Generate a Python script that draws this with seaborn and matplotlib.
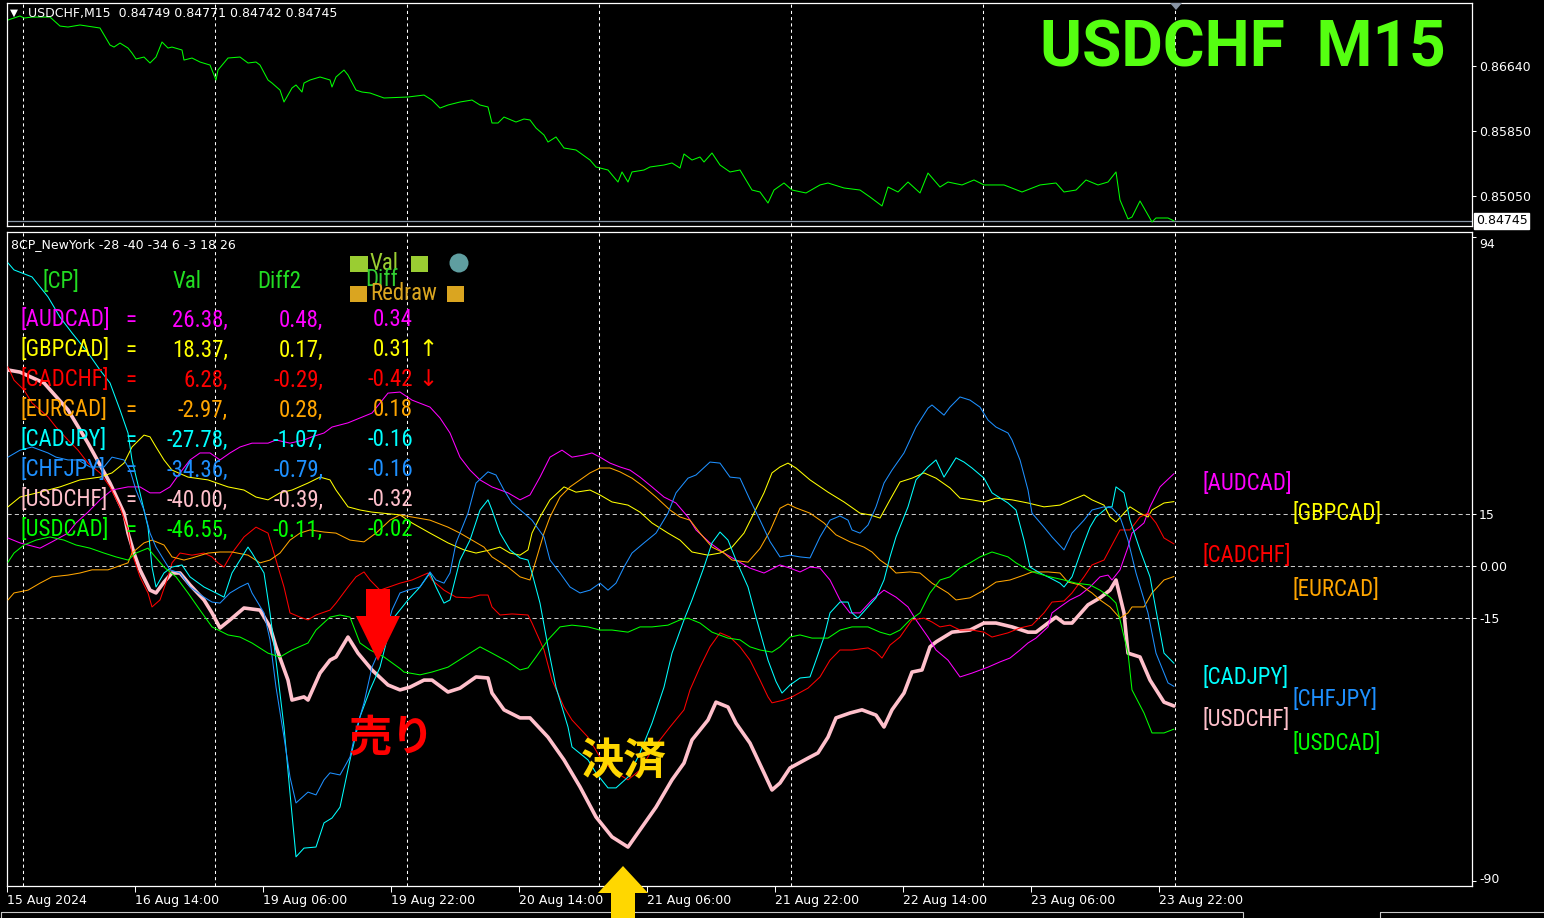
import matplotlib
matplotlib.use("Agg")
import matplotlib.pyplot as plt
import seaborn as sns
import pandas as pd
from matplotlib import font_manager
from matplotlib.font_manager import FontProperties
from matplotlib.patches import Polygon, Rectangle, Circle
from matplotlib.transforms import Affine2D, blended_transform_factory, ScaledTranslation

# ---------------- DATA ----------------
# USDCHF M15 price (bar index, price)
price_pts = [(0,0.87203),(6,0.87252),(8,0.87227),(12,0.87239),(21,0.87239),(26,0.87129),(30,0.87117),(36,0.87142),
    (46,0.87105),(51,0.86897),(53,0.86872),(56,0.86921),(60,0.86860),(62,0.86799),(64,0.86726),(68,0.86750),
    (71,0.86677),(74,0.86750),(77,0.86934),(80,0.86860),(82,0.86872),(87,0.86836),(88,0.86713),(92,0.86738),
    (96,0.86689),(101,0.86652),(104,0.86469),(105,0.86591),(110,0.86738),(116,0.86750),(120,0.86677),(124,0.86689),
    (126,0.86652),(130,0.86469),(132,0.86432),(136,0.86346),(138,0.86200),(142,0.86371),(144,0.86408),(147,0.86322),
    (148,0.86432),(151,0.86469),(156,0.86506),(161,0.86469),(162,0.86383),(164,0.86506),(168,0.86591),(170,0.86530),
    (174,0.86346),(177,0.86322),(181,0.86310),(188,0.86249),(200,0.86261),(208,0.86285),(212,0.86224),(216,0.86126),
    (220,0.86163),(226,0.86200),(232,0.86224),(236,0.86163),(240,0.86139),(242,0.85943),(245,0.85943),(248,0.86016),
    (254,0.85955),(258,0.85992),(261,0.85980),(264,0.85882),(268,0.85796),(270,0.85710),(274,0.85772),(278,0.85637),
    (284,0.85613),(291,0.85490),(294,0.85405),(300,0.85368),(305,0.85221),(307,0.85344),(310,0.85221),(312,0.85344),
    (318,0.85368),(321,0.85405),(328,0.85429),(332,0.85454),(336,0.85392),(338,0.85564),(342,0.85490),(346,0.85527),
    (348,0.85466),(352,0.85576),(356,0.85429),(361,0.85344),(366,0.85368),(372,0.85123),(376,0.85099),(380,0.84964),
    (383,0.85123),(388,0.85209),(392,0.85123),(399,0.85087),(406,0.85185),(410,0.85209),(418,0.85148),(426,0.85123),
    (431,0.85038),(437,0.84928),(440,0.85160),(445,0.85099),(450,0.85221),(456,0.85087),(460,0.85331),(466,0.85160),
    (470,0.85221),(477,0.85185),(483,0.85246),(488,0.85185),(498,0.85185),(507,0.85099),(516,0.85185),(524,0.85209),
    (528,0.85099),(534,0.85123),(539,0.85246),(545,0.85185),(550,0.85221),(554,0.85344),(556,0.85001),(560,0.84769),
    (562,0.84793),(566,0.84989),(568,0.84903),(572,0.84732),(574,0.84781),(580,0.84781),(583,0.84745)]
last_price = 0.84745

usdchf_pts = [(0,56.0),(6,55.4),(18,52.3),(30,44.6),(40,35.1),(51,23.7),(58,15.1),(60,9.4),(63,3.7),(66,-1.1),(71,-6.9),
    (74,-7.7),(78,-4.6),(82,-2.0),(86,-2.0),(91,-5.4),(98,-9.7),(102,-13.4),(106,-17.7),(111,-15.4),(118,-12.0),
    (126,-12.6),(131,-17.4),(134,-23.1),(140,-32.6),(142,-38.3),(148,-37.4),(150,-38.3),(156,-30.6),(161,-26.9),
    (164,-26.0),(170,-20.3),(175,-24.9),(182,-29.7),(190,-34.0),(196,-35.4),(201,-34.6),(208,-32.6),(212,-32.6),
    (220,-36.0),(226,-34.9),(234,-31.7),(240,-32.0),(242,-36.3),(248,-41.1),(256,-43.4),(261,-43.4),(270,-48.9),
    (278,-55.4),(286,-63.1),(294,-71.7),(302,-77.4),(310,-80.3),(316,-75.4),(324,-68.9),(332,-61.1),(338,-56.3),
    (342,-49.7),(350,-44.0),(354,-38.9),(360,-40.3),(364,-44.9),(371,-50.6),(378,-59.1),(382,-64.0),(386,-62.0),
    (391,-57.7),(400,-54.9),(405,-53.4),(410,-48.9),(414,-43.4),(421,-42.0),(427,-41.1),(434,-42.6),(438,-46.0),
    (442,-41.1),(448,-36.3),(452,-30.3),(457,-29.7),(461,-23.1),(464,-21.7),(472,-18.9),(481,-18.3),(488,-16.3),
    (494,-16.3),(502,-17.4),(510,-18.9),(514,-18.9),(520,-16.3),(524,-14.6),(528,-16.3),(532,-16.3),(540,-11.1),
    (546,-9.1),(551,-6.9),(554,-4.0),(558,-13.4),(560,-24.9),(566,-26.0),(571,-32.6),(578,-38.9),(583,-40.0)]

cadjpy_pts = [(0,86.6),(3,84.6),(12,82.6),(20,76.9),(26,71.1),(32,66.6),(40,60.9),(46,56.0),(51,52.3),(56,44.6),(60,38.0),
    (62,30.3),(66,20.9),(70,11.1),(72,-0.3),(74,-6.0),(78,-2.0),(82,-0.3),(87,0.3),(91,-3.1),(98,-6.0),(104,-7.7),
    (108,-8.9),(112,-2.0),(120,5.4),(122,3.7),(128,-2.0),(131,-13.4),(134,-26.9),(138,-46.0),(141,-64.9),(144,-83.1),
    (148,-80.6),(154,-80.3),(158,-73.4),(162,-72.0),(166,-68.9),(171,-55.4),(176,-43.1),(181,-35.4),(186,-28.9),
    (192,-15.4),(200,-9.7),(206,-6.0),(211,-2.0),(214,-6.0),(218,-10.6),(221,-9.7),(226,1.7),(231,7.4),(236,16.0),
    (240,18.9),(242,16.0),(246,9.4),(251,4.6),(256,2.3),(260,1.7),(262,-2.0),(266,-10.6),(270,-23.1),(274,-34.6),
    (280,-46.0),(282,-51.7),(290,-55.4),(294,-59.1),(300,-63.4),(304,-63.4),(310,-60.3),(316,-53.4),(322,-44.9),
    (328,-34.6),(332,-24.9),(338,-15.4),(342,-9.7),(348,-0.3),(352,6.6),(356,9.7),(360,7.4),(364,1.7),(370,-6.0),
    (374,-14.6),(380,-26.9),(384,-33.0),(387,-36.3),(391,-34.0),(396,-32.0),(401,-31.7),(404,-26.9),(408,-20.3),
    (411,-13.4),(416,-10.3),(420,-10.3),(422,-13.4),(425,-14.9),(430,-11.7),(434,-9.1),(438,-4.0),(441,2.6),(444,8.3),
    (450,16.9),(454,24.6),(460,28.3),(464,30.3),(468,25.4),(474,30.9),(478,29.7),(482,28.0),(488,25.1),(492,20.9),
    (500,18.0),(504,16.0),(508,7.4),(511,-0.3),(516,-2.0),(521,-3.4),(526,-4.9),(528,-6.0),(532,-3.1),(538,6.6),
    (541,11.1),(544,14.0),(550,16.9),(552,16.9),(554,22.6),(558,20.9),(561,13.1),(566,4.6),(571,-3.1),(574,-12.6),
    (578,-24.9),(583,-27.8)]

chfjpy_pts = [(0,31.1),(6,33.1),(12,34.0),(20,32.3),(24,31.1),(30,30.3),(35,30.3),(41,28.3),(48,28.3),(52,31.1),(58,30.3),
    (61,27.4),(64,21.7),(68,16.0),(71,9.4),(74,5.4),(78,1.7),(81,-1.1),(86,-2.0),(91,-6.0),(98,-8.9),(102,-10.3),
    (106,-10.6),(111,-7.7),(116,-6.0),(120,-4.9),(122,-7.7),(128,-13.4),(131,-21.1),(134,-34.6),(138,-48.9),
    (141,-60.3),(144,-67.7),(150,-64.6),(154,-65.4),(158,-61.1),(161,-59.1),(166,-59.7),(171,-54.6),(174,-46.9),
    (178,-39.1),(182,-28.9),(188,-21.1),(192,-12.6),(196,-7.7),(200,-6.9),(206,-6.0),(211,-1.7),(214,-4.0),(218,-4.9),
    (221,-2.0),(224,6.6),(230,15.1),(234,23.7),(240,26.9),(244,26.0),(248,21.7),(252,18.0),(258,15.1),(262,13.1),
    (268,8.3),(271,1.7),(276,-2.0),(281,-6.0),(286,-7.7),(291,-6.9),(296,-4.9),(300,-6.9),(304,-4.9),(308,-0.3),
    (312,3.7),(318,6.6),(324,9.4),(330,15.1),(334,20.9),(340,25.1),(344,26.0),(351,29.7),(356,29.4),(361,25.4),
    (366,25.1),(371,18.9),(376,13.1),(381,7.0),(386,2.6),(391,3.1),(396,2.6),(401,2.3),(406,8.3),(411,13.1),(416,14.3),
    (420,13.1),(422,10.3),(426,9.4),(430,11.7),(434,16.9),(438,23.7),(442,27.4),(448,32.3),(454,39.7),(460,45.1),
    (462,46.0),(468,43.1),(471,45.4),(476,48.3),(481,47.4),(486,45.4),(490,41.7),(494,39.7),(500,38.0),(502,36.0),
    (506,30.3),(510,21.7),(512,15.1),(518,11.1),(522,8.3),(528,4.6),(532,9.4),(538,13.1),(542,16.0),(548,16.9),
    (552,16.6),(556,14.0),(560,7.4),(564,-2.0),(570,-13.4),(574,-24.9),(580,-33.4),(583,-34.4)]

cadchf_pts = [(0,56.9),(3,53.1),(8,50.3),(12,46.6),(20,42.6),(24,39.7),(30,36.0),(35,33.1),(40,29.4),(46,26.6),(51,22.6),
    (56,16.9),(60,10.3),(62,3.7),(66,-3.1),(70,-7.7),(72,-11.7),(76,-9.7),(80,-3.1),(82,0.9),(86,3.7),(92,3.1),(98,3.7),
    (102,2.6),(105,0.9),(108,-0.3),(112,3.7),(118,8.3),(124,11.1),(130,9.4),(134,1.7),(138,-6.0),(141,-13.4),
    (146,-14.6),(150,-15.4),(154,-14.0),(161,-12.6),(164,-10.6),(170,-6.0),(174,-3.1),(178,-1.7),(181,-4.0),(186,-6.9),
    (196,-4.9),(202,-4.0),(210,-2.0),(212,-4.0),(218,-6.9),(224,-8.9),(231,-9.1),(236,-8.3),(240,-8.3),(242,-11.7),
    (246,-14.0),(252,-13.7),(260,-14.0),(262,-16.3),(268,-24.0),(272,-32.6),(278,-40.3),(282,-44.0),(290,-48.9),
    (296,-54.6),(302,-58.3),(310,-61.1),(316,-58.3),(322,-52.6),(331,-46.0),(338,-41.1),(341,-35.4),(346,-28.9),
    (351,-23.1),(356,-19.1),(361,-20.3),(366,-23.1),(371,-26.9),(376,-32.6),(380,-37.4),(382,-39.1),(388,-38.3),
    (392,-37.4),(400,-34.9),(406,-31.7),(411,-26.9),(416,-24.0),(422,-24.0),(430,-23.4),(434,-24.6),(437,-26.3),
    (441,-22.6),(446,-20.3),(452,-15.4),(458,-14.9),(462,-16.0),(466,-17.4),(471,-16.9),(476,-18.3),(482,-18.3),
    (488,-18.9),(492,-20.3),(500,-19.1),(506,-17.7),(512,-16.9),(518,-13.4),(522,-10.3),(528,-10.0),(532,-7.7),
    (538,-3.1),(542,0.3),(548,1.7),(552,6.0),(556,10.3),(561,10.3),(566,14.0),(570,15.1),(574,12.3),(578,8.0),(583,6.3)]

audcad_pts = [(0,8.0),(6,6.6),(16,5.1),(22,6.9),(30,9.4),(34,12.3),(40,15.4),(46,18.9),(52,21.7),(60,22.6),(66,22.6),
    (71,20.9),(76,20.9),(81,22.6),(86,26.6),(91,30.3),(96,32.3),(101,32.3),(106,30.3),(111,32.3),(116,34.0),(122,35.1),
    (130,35.1),(134,36.0),(141,35.1),(148,36.0),(152,36.9),(158,38.0),(162,39.7),(170,40.9),(176,42.3),(182,43.7),
    (190,49.4),(196,49.7),(202,47.4),(211,45.4),(216,42.3),(221,38.0),(226,31.1),(231,27.4),(236,24.6),(242,22.6),
    (250,20.9),(256,18.9),(261,20.3),(266,25.4),(271,31.1),(277,33.1),(282,31.1),(288,31.7),(292,32.3),(296,31.1),
    (301,29.4),(306,28.3),(311,27.4),(316,25.4),(322,22.6),(328,19.7),(334,18.0),(340,14.0),(344,10.3),(351,6.6),
    (358,3.7),(364,1.7),(371,-0.6),(378,-2.0),(386,0.3),(391,-0.6),(396,-1.7),(401,-0.3),(406,-0.6),(411,-4.0),
    (416,-9.7),(421,-13.4),(426,-13.4),(432,-9.7),(438,-6.9),(444,-8.9),(450,-11.7),(454,-15.4),(460,-20.3),
    (464,-24.0),(470,-26.9),(476,-31.7),(482,-30.6),(490,-28.9),(496,-27.4),(501,-26.3),(506,-24.0),(510,-22.0),
    (514,-20.6),(520,-17.4),(522,-13.4),(526,-11.7),(531,-9.7),(536,-8.3),(541,-6.0),(546,-3.1),(550,-2.6),(552,-4.0),
    (556,-1.1),(560,5.4),(562,9.4),(568,12.3),(571,16.9),(576,22.6),(583,26.4)]

gbpcad_pts = [(0,16.9),(6,19.7),(16,21.1),(26,22.6),(36,24.6),(46,25.4),(52,26.6),(58,29.4),(62,34.0),(68,37.4),(71,36.9),
    (74,34.0),(78,30.3),(82,27.4),(90,25.4),(100,24.6),(110,22.6),(118,21.7),(124,19.7),(130,18.9),(136,20.9),
    (142,21.7),(150,23.7),(156,25.4),(161,24.6),(164,21.7),(170,16.9),(176,16.0),(182,15.4),(196,14.6),(202,12.3),
    (211,9.4),(220,6.6),(228,4.6),(234,3.7),(241,4.6),(246,5.4),(251,3.7),(256,3.1),(260,4.6),(262,9.4),(266,14.0),
    (271,18.9),(278,22.6),(284,21.1),(291,21.7),(296,20.3),(302,18.3),(310,17.4),(316,15.4),(322,12.3),(330,9.4),
    (336,7.4),(342,4.0),(350,3.1),(356,3.7),(362,5.4),(368,9.4),(372,14.0),(378,20.9),(382,26.6),(386,28.3),(390,29.4),
    (394,28.0),(401,24.6),(410,21.1),(418,18.3),(426,15.1),(431,14.6),(436,13.7),(441,18.9),(446,24.0),(452,25.1),
    (458,26.6),(464,25.1),(471,22.3),(476,19.4),(482,18.9),(488,18.3),(494,19.4),(502,18.9),(510,18.0),(518,16.9),
    (526,17.4),(532,18.9),(538,20.3),(542,18.9),(548,17.4),(551,14.0),(554,12.6),(558,15.1),(561,16.9),(566,15.1),
    (570,14.0),(572,16.0),(578,18.0),(583,18.4)]

eurcad_pts = [(0,-9.7),(3,-7.7),(10,-6.9),(16,-4.9),(22,-3.1),(30,-2.6),(36,-2.0),(42,-1.1),(50,-1.1),(54,-0.3),(60,0.9),
    (62,3.7),(68,6.6),(72,7.4),(78,6.0),(82,2.6),(88,1.7),(92,2.3),(100,3.7),(106,4.0),(112,4.0),(120,3.1),(126,0.9),
    (131,1.7),(136,3.7),(141,7.4),(146,9.4),(151,10.3),(158,9.7),(164,9.4),(171,7.4),(178,6.9),(184,9.4),(191,13.1),
    (196,14.6),(202,14.0),(211,13.1),(220,11.1),(226,9.4),(232,7.4),(238,5.4),(242,2.6),(250,-0.3),(256,-3.1),
    (261,-4.0),(264,1.7),(268,9.4),(271,14.0),(276,19.7),(281,22.6),(286,24.6),(291,26.6),(296,28.0),(301,28.0),
    (306,26.9),(312,25.1),(318,22.6),(324,19.7),(331,16.0),(336,14.0),(341,13.1),(346,9.4),(352,5.4),(358,3.7),
    (362,1.7),(370,1.1),(376,5.0),(381,10.0),(386,16.5),(390,17.7),(394,16.6),(401,15.1),(408,12.3),(414,8.9),
    (421,6.9),(428,5.4),(432,4.0),(436,1.7),(441,-0.3),(444,-2.0),(451,-1.7),(456,-2.0),(462,-4.9),(470,-7.7),
    (474,-9.7),(481,-9.1),(488,-6.9),(494,-4.6),(501,-4.0),(508,-2.6),(512,-1.7),(520,-1.7),(526,-2.0),(530,-4.6),
    (536,-5.4),(542,-7.7),(546,-9.7),(551,-11.7),(556,-14.9),(560,-13.4),(562,-11.7),(568,-11.7),(572,-7.7),
    (578,-4.0),(583,-3.0)]

usdcad_pts = [(0,1.1),(3,3.7),(8,6.0),(14,7.4),(21,8.3),(28,7.4),(34,6.0),(41,5.1),(48,3.7),(54,2.6),(60,1.7),(64,3.7),
    (70,5.1),(72,3.7),(78,-0.3),(84,-3.1),(90,-7.7),(96,-12.6),(102,-17.4),(110,-19.7),(116,-20.3),(122,-22.0),
    (130,-24.9),(136,-26.0),(142,-24.0),(150,-22.0),(154,-18.3),(161,-14.6),(166,-14.0),(171,-14.6),(176,-22.0),
    (181,-24.0),(188,-26.0),(196,-29.3),(198,-30.3),(206,-31.1),(212,-30.3),(220,-28.9),(228,-26.0),(236,-23.1),
    (242,-24.9),(250,-27.4),(256,-29.7),(260,-29.1),(264,-26.0),(270,-21.1),(276,-17.4),(282,-16.9),(290,-17.4),
    (296,-18.3),(302,-18.3),(310,-18.9),(316,-17.4),(322,-17.4),(330,-16.9),(336,-15.4),(340,-14.9),(346,-16.3),
    (352,-18.9),(360,-20.6),(366,-21.1),(371,-23.1),(376,-24.0),(382,-24.6),(386,-23.1),(391,-20.3),(396,-19.7),
    (402,-20.6),(410,-20.6),(416,-18.3),(422,-17.4),(430,-17.4),(436,-18.9),(441,-19.7),(446,-18.3),(451,-15.4),
    (456,-13.4),(461,-7.7),(466,-4.0),(471,-3.1),(476,-0.6),(481,0.9),(486,2.6),(492,4.0),(500,2.6),(504,0.9),
    (510,-1.1),(514,-2.0),(521,-3.1),(528,-4.0),(534,-4.9),(541,-5.4),(546,-6.9),(551,-8.9),(554,-10.6),(556,-15.4),
    (560,-24.9),(562,-35.4),(568,-42.0),(572,-47.7),(578,-47.7),(583,-46.6)]

pairs = ["AUDCAD", "GBPCAD", "CADCHF", "EURCAD", "CADJPY", "CHFJPY", "USDCHF", "USDCAD"]
pair_colors = ["#FF00FF", "#FFFF00", "#FF0000", "#FFA500", "#00FFFF", "#1E90FF", "#FFC0CB", "#00FF00"]
table_val = ["26.38,", "18.37,", "6.28,", "-2.97,", "-27.78,", "-34.36,", "-40.00,", "-46.55,"]
table_diff2 = ["0.48,", "0.17,", "-0.29,", "0.28,", "-1.07,", "-0.79,", "-0.39,", "-0.11,"]
table_diff = ["0.34", "0.31", "-0.42", "0.18", "-0.16", "-0.16", "-0.32", "-0.02"]
table_arrow = ["", "\u2191", "\u2193", "", "", "", "", ""]
time_labels = ["15 Aug 2024", "16 Aug 14:00", "19 Aug 06:00", "19 Aug 22:00", "20 Aug 14:00",
               "21 Aug 06:00", "21 Aug 22:00", "22 Aug 14:00", "23 Aug 06:00", "23 Aug 22:00"]
price_ticks = [0.86640, 0.85850, 0.85050]
ind_ticks = [94, 15, 0, -15, -90]
ind_tick_labels = ["94", "15", "0.00", "-15", "-90"]
ind_levels = [15, 0, -15]
header_text = "USDCHF,M15  0.84749 0.84771 0.84742 0.84745"
ind_header = "8CP_NewYork -28 -40 -34 6 -3 18 26"

series = {"AUDCAD": audcad_pts, "GBPCAD": gbpcad_pts, "CADCHF": cadchf_pts, "EURCAD": eurcad_pts,
          "CADJPY": cadjpy_pts, "CHFJPY": chfjpy_pts, "USDCHF": usdchf_pts, "USDCAD": usdcad_pts}

# ---------------- STYLE ----------------
sns.set_theme(style="dark")
plt.rcParams["font.family"] = ["DejaVu Sans", "Noto Sans CJK JP"]
plt.rcParams["axes.unicode_minus"] = False

flist = font_manager.fontManager.ttflist
avail = {f.name for f in flist}
if "Liberation Sans Narrow" in avail:
    TFP = FontProperties(family=["Liberation Sans Narrow", "DejaVu Sans"], size=16.5)
elif "Roboto Condensed" in avail:
    TFP = FontProperties(family=["Roboto Condensed", "DejaVu Sans"], size=16.5)
elif any(f.name == "DejaVu Sans" and str(f.stretch) == "condensed" for f in flist):
    TFP = FontProperties(family=["DejaVu Sans"], stretch="condensed", size=14.3)
else:
    TFP = FontProperties(family=["Noto Sans CJK JP", "DejaVu Sans"], size=14.3)
BIGF = "Roboto" if "Roboto" in avail else "DejaVu Sans"

W, H = 1544, 918
fig = plt.figure(figsize=(W / 100, H / 100), dpi=100, facecolor="black")
PX = Affine2D().scale(1 / W, -1 / H).translate(0, 1) + fig.transFigure


def rect(l, t, r, b):
    return [l / W, 1 - b / H, (r - l) / W, (b - t) / H]


ax1 = fig.add_axes(rect(7, 3, 1472, 226))
ax2 = fig.add_axes(rect(7, 232, 1472, 886))
XL = (-0.5, 732)
grid_bars = [7.5 + 96 * k for k in range(7)]
tick_bars = [64 * k - 0.5 for k in range(len(time_labels))]

for ax in (ax1, ax2):
    ax.set_facecolor("black")
    for s in ax.spines.values():
        s.set_color("white")
        s.set_linewidth(0.9)
        s.set_visible(True)
    ax.set_xlim(*XL)
    for gb in grid_bars:
        ax.axvline(gb, color="white", lw=0.75, ls=(0, (3, 3)), zorder=0.5)
    ax.yaxis.tick_right()
    ax.tick_params(axis="y", which="both", colors="white", labelsize=9, length=3, width=0.75,
                   direction="out", right=True, left=False, labelright=True, labelleft=False, pad=2)

# ---- top price panel ----
pdf = pd.DataFrame(price_pts, columns=["bar", "price"])
sns.lineplot(data=pdf, x="bar", y="price", ax=ax1, color="#00FF00", linewidth=0.75, legend=False)
ax1.axhline(last_price, color="#8896A6", lw=0.9, zorder=1)
ax1.set_ylim(0.84683, 0.87411)
ax1.set_yticks(price_ticks)
ax1.set_yticklabels([f"{t:.5f}" for t in price_ticks])
ax1.set_xticks([])
ax1.set_xlabel("")
ax1.set_ylabel("")
ax1.text(1.0025, last_price, f"{last_price:.5f}", transform=blended_transform_factory(ax1.transAxes, ax1.transData),
         ha="left", va="center", color="black", fontsize=9,
         bbox=dict(boxstyle="square,pad=0.12", fc="white", ec="white"))

# ---- bottom indicator panel ----
order = ["USDCHF", "AUDCAD", "GBPCAD", "CADCHF", "EURCAD", "CADJPY", "CHFJPY", "USDCAD"]
for p in order:
    df = pd.DataFrame(series[p], columns=["bar", "value"])
    c = pair_colors[pairs.index(p)]
    lw = 2.6 if p == "USDCHF" else 0.75
    sns.lineplot(data=df, x="bar", y="value", ax=ax2, color=c, linewidth=lw, legend=False, zorder=3)
for lv in ind_levels:
    ax2.axhline(lv, color="#C8C8C8", lw=0.75, ls=(0, (4, 3)), zorder=0.5)
ax2.set_ylim(-91.43, 95.43)
ax2.set_yticks(ind_ticks)
ax2.set_yticklabels(ind_tick_labels)
ylabs = ax2.get_yticklabels()
ylabs[0].set_transform(ylabs[0].get_transform() + ScaledTranslation(0, -6 / 100, fig.dpi_scale_trans))
ylabs[-1].set_transform(ylabs[-1].get_transform() + ScaledTranslation(0, 3 / 100, fig.dpi_scale_trans))
ax2.set_xticks(tick_bars)
ax2.set_xticklabels(time_labels)
ax2.tick_params(axis="x", colors="white", labelsize=9, length=4, width=0.75, direction="out", bottom=True, pad=1.5)
for lab in ax2.get_xticklabels():
    lab.set_horizontalalignment("left")
ax2.set_xlim(*XL)
ax2.set_xlabel("")
ax2.set_ylabel("")


def ptext(x, y, s, **kw):
    fig.text(x, y, s, transform=PX, **kw)


def ttext(x, y, s, **kw):
    fig.text(x, y, s, transform=PX, fontproperties=TFP, **kw)


# header texts
ptext(10, 13, "\u25BC", color="white", fontsize=7.5, ha="left", va="center")
ptext(28, 13, header_text, color="white", fontsize=9, ha="left", va="center")
ptext(1446, 49, "USDCHF  M15", color="#55FF11", fontsize=46, fontweight="bold", family=BIGF, ha="right", va="center")
fig.add_artist(Polygon([(1170, 3), (1182, 3), (1176, 10)], closed=True, transform=PX, fc="#8894A4", ec="none"))
ptext(11, 245, ind_header, color="white", fontsize=9, ha="left", va="center")

# table
hdr = "#22DD22"
ttext(43, 282, "[CP]", color=hdr, ha="left", va="center")
ttext(173, 282, "Val", color=hdr, ha="left", va="center")
ttext(257, 282, "Diff2", color=hdr, ha="left", va="center")
for i, p in enumerate(pairs):
    y = 320 + 30 * i
    c = pair_colors[i]
    ttext(20, y, f"[{p}]", ha="left", color=c, va="center")
    ttext(131, y, "=", ha="center", color=c, va="center")
    ttext(228, y, table_val[i], ha="right", color=c, va="center")
    ttext(323, y, table_diff2[i], ha="right", color=c, va="center")
    ttext(413, y, table_diff[i], ha="right", color=c, va="center")
    if table_arrow[i]:
        ttext(418, y, table_arrow[i], ha="left", color=c, va="center")

# buttons
for (x, y, w, h, c) in [(350, 256, 18, 16, "#9ACD32"), (411, 256, 17, 16, "#9ACD32"),
                        (350, 286, 17, 16, "#DAA520"), (447, 286, 17, 16, "#DAA520")]:
    fig.add_artist(Rectangle((x, y), w, h, transform=PX, fc=c, ec="none"))
ttext(370, 263, "Val", color="#9ACD32", ha="left", va="center")
ttext(365, 280, "Diff", color="#32CD32", ha="left", va="center")
ttext(370, 293, "Redraw", color="#DAA520", ha="left", va="center")
fig.add_artist(Circle((459, 263), 9.5, transform=PX, fc="#5F9EA0", ec="none"))

# right labels
right_pos = [(1202, 484), (1292, 513), (1202, 556), (1292, 589), (1202, 677), (1292, 700), (1202, 720), (1292, 743)]
for (x, y), p, c in zip(right_pos, pairs, pair_colors):
    ttext(x, y, f"[{p}]", color=c, ha="left", va="center")

# trade annotations
fig.add_artist(Polygon([(366, 589), (390, 589), (390, 616), (400, 616), (378, 661), (356, 616), (366, 616)],
                       closed=True, transform=PX, fc="#FF0000", ec="none"))
fig.add_artist(Polygon([(623, 866), (648, 893), (635, 893), (635, 920), (611, 920), (611, 893), (598, 893)],
                       closed=True, transform=PX, fc="#FFD700", ec="none", zorder=10))
ptext(349, 738, "売り", color="#FF0000", fontsize=31, fontweight="bold", family=["Noto Sans CJK JP"],
      ha="left", va="center")
ptext(581, 761, "決済", color="#FFD700", fontsize=31, fontweight="bold", family=["Noto Sans CJK JP"],
      ha="left", va="center")

# window tab bar
fig.add_artist(Rectangle((1, 912), 1242, 12, transform=PX, fc="none", ec="#C8C8C8", lw=0.8))
fig.add_artist(Rectangle((1380, 912), 170, 12, transform=PX, fc="none", ec="#C8C8C8", lw=0.8))

fig.savefig("out.png", dpi=100, facecolor="black")
